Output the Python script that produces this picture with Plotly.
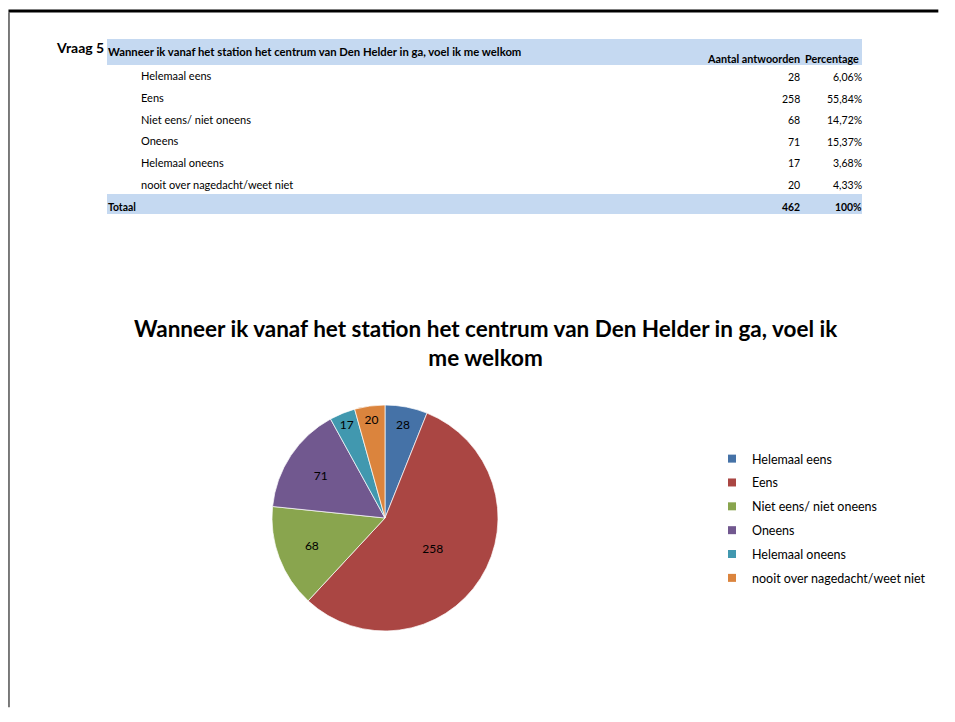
import plotly.graph_objects as go

W, H = 955, 722          # browser window
O = 8                    # default body margin of the page
FW, FH = W - 20, H - 20  # figure size (kept small enough to avoid scrollbars)

question = "Wanneer ik vanaf het station het centrum van Den Helder in ga, voel ik me welkom"
chart_title = "Wanneer ik vanaf het station het centrum van Den Helder in ga, voel ik<br>me welkom"
categories = ["Helemaal eens", "Eens", "Niet eens/ niet oneens", "Oneens",
              "Helemaal oneens", "nooit over nagedacht/weet niet"]
counts = [28, 258, 68, 71, 17, 20]
percentages = ["6,06%", "55,84%", "14,72%", "15,37%", "3,68%", "4,33%"]
total_count = 462
total_pct = "100%"
colors = ["#4572A7", "#AA4643", "#89A54E", "#71588F", "#4198AF", "#DB843D"]

FONT = "Lato, Carlito, Calibri, sans-serif"


def px(x):
    return (x - O) / FW


def py(y):
    return 1 - (y - O) / FH


fig = go.Figure()

# pie chart
cx, cy, r = 385, 518, 113
fig.add_trace(go.Pie(
    labels=categories,
    values=counts,
    sort=False,
    direction="clockwise",
    rotation=0,
    marker=dict(colors=colors, line=dict(color="white", width=0.7)),
    textinfo="value",
    textposition="inside",
    insidetextorientation="horizontal",
    textfont=dict(family=FONT, size=12, color="black"),
    domain=dict(x=[px(cx - r), px(cx + r)], y=[py(cy + r), py(cy - r)]),
    hoverinfo="label+value+percent",
    showlegend=False,
))

# legend entries (one per category, same colours as the slices)
for i, (c, col) in enumerate(zip(categories, colors)):
    fig.add_trace(go.Scatter(
        x=[None], y=[None], mode="markers", name=c, legendgroup=f"g{i}",
        marker=dict(symbol="square", size=8, color=col),
        showlegend=True, hoverinfo="skip"))

shapes = []
annotations = []

# page border (top and left edge), kept just inside the figure edges
shapes.append(dict(type="rect", xref="paper", yref="paper", layer="below",
                   x0=0.0005, x1=0.995, y0=py(12.5), y1=py(9.5),
                   fillcolor="black", line=dict(width=0)))
shapes.append(dict(type="rect", xref="paper", yref="paper", layer="below",
                   x0=0.0005, x1=px(9.5), y0=0.004, y1=py(12.5),
                   fillcolor="black", line=dict(width=0)))

# table bands
band = "#C5D9F1"
shapes.append(dict(type="rect", xref="paper", yref="paper", layer="below",
                   x0=px(107), x1=px(862), y0=py(65), y1=py(39),
                   fillcolor=band, line=dict(width=0)))
shapes.append(dict(type="rect", xref="paper", yref="paper", layer="below",
                   x0=px(107), x1=px(862), y0=py(214), y1=py(194),
                   fillcolor=band, line=dict(width=0)))


def txt(x, y, s, size=10, bold=False, xanchor="left"):
    annotations.append(dict(
        x=px(x), y=py(y), xref="paper", yref="paper", showarrow=False,
        text=f"<b>{s}</b>" if bold else s, xanchor=xanchor, yanchor="middle",
        xshift=-2 if xanchor == "left" else 2,
        font=dict(family=FONT, size=size, color="black")))


txt(56, 47, "Vraag 5", size=14, bold=True)
txt(108, 52, question, size=11.3, bold=True)
txt(800, 59, "Aantal antwoorden", size=10.8, bold=True, xanchor="right")
txt(859, 59, "Percentage", size=10.8, bold=True, xanchor="right")

row_y0, row_dy = 76, 21.6
for i, (c, n, p) in enumerate(zip(categories, counts, percentages)):
    y = row_y0 + i * row_dy
    txt(141, y, c, size=11)
    txt(800, y + 1, str(n), size=10.5, xanchor="right")
    txt(862, y + 1, p, size=10.5, xanchor="right")

txt(108, 207, "Totaal", size=10.4, bold=True)
txt(800, 207, str(total_count), size=10.4, bold=True, xanchor="right")
txt(862, 207, total_pct, size=10.4, bold=True, xanchor="right")

# chart title
annotations.append(dict(
    x=px(486), y=py(343), xref="paper", yref="paper", showarrow=False,
    text=f"<b>{chart_title}</b>", xanchor="center", yanchor="middle",
    font=dict(family=FONT, size=22.5, color="black")))

fig.update_layout(
    width=FW, height=FH,
    margin=dict(l=0, r=0, t=0, b=0),
    paper_bgcolor="white", plot_bgcolor="white",
    xaxis=dict(visible=False, showgrid=False, zeroline=False, showline=False),
    yaxis=dict(visible=False, showgrid=False, zeroline=False, showline=False),
    shapes=shapes, annotations=annotations,
    showlegend=True,
    legend=dict(x=px(712), y=py(444), xanchor="left", yanchor="top",
                font=dict(family=FONT, size=12.5, color="black"),
                tracegroupgap=4.6,
                bgcolor="rgba(0,0,0,0)", itemclick=False, itemdoubleclick=False),
)

fig.write_html("out.html")
